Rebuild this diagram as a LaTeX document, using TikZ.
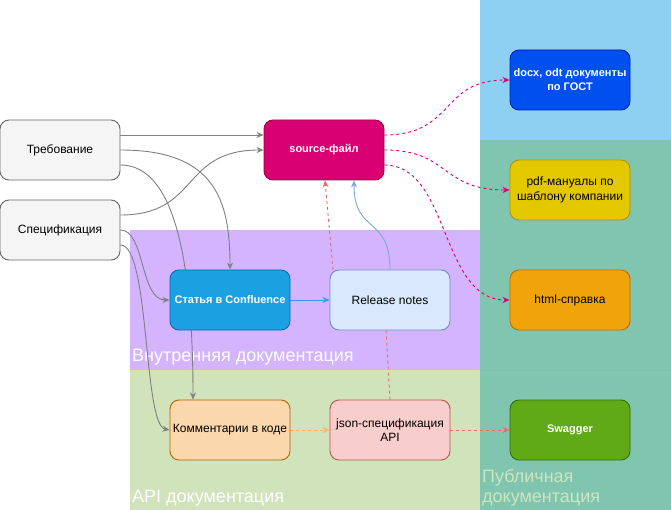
\documentclass[tikz,border=0pt]{standalone}
\usepackage{fontspec}
\setmainfont{Liberation Sans}
\usetikzlibrary{arrows.meta,calc}
\pgfdeclarelayer{bg}
\pgfdeclarelayer{edges}
\pgfsetlayers{bg,edges,main}
\definecolor{regblue}{HTML}{8DD0F1}
\definecolor{regteal}{HTML}{80C5AF}
\definecolor{regpurple}{HTML}{D4B3FF}
\definecolor{reggreen}{HTML}{D0E3BA}
\definecolor{pubtext}{HTML}{CDE6BE}
\definecolor{edgegray}{HTML}{808080}
\definecolor{edgemag}{HTML}{D80073}
\definecolor{srcdraw}{HTML}{A50040}
\definecolor{docxfill}{HTML}{0050EF}
\definecolor{docxdraw}{HTML}{001DBC}
\definecolor{pdffill}{HTML}{E3C800}
\definecolor{pdfdraw}{HTML}{B09500}
\definecolor{htmlfill}{HTML}{F0A30A}
\definecolor{htmldraw}{HTML}{BD7000}
\definecolor{conffill}{HTML}{1BA1E2}
\definecolor{confdraw}{HTML}{006EAF}
\definecolor{rnfill}{HTML}{DAE8FC}
\definecolor{rndraw}{HTML}{6C8EBF}
\definecolor{comfill}{HTML}{FAD7AC}
\definecolor{comdraw}{HTML}{B46504}
\definecolor{jsonfill}{HTML}{F8CECC}
\definecolor{jsondraw}{HTML}{B85450}
\definecolor{swfill}{HTML}{60A917}
\definecolor{swdraw}{HTML}{2D7600}
\definecolor{edgeblue}{HTML}{3399FF}
\definecolor{edgelblue}{HTML}{7EA6E0}
\definecolor{edgered}{HTML}{EA6B66}
\definecolor{edgeorange}{HTML}{FFB366}
\tikzset{
  box/.style={rounded corners=9pt, minimum width=120pt, minimum height=60pt,
    line width=0.9pt, align=center, inner sep=2pt,
    font=\fontsize{12}{14.5}\selectfont},
  wbox/.style={box, text=white, font=\bfseries\fontsize{11}{14}\selectfont},
  arr/.style={line width=0.9pt, -{Stealth[length=7pt,width=6pt]}},
  dsh/.style={arr, dash pattern=on 3pt off 3pt},
  reglabel/.style={anchor=base west, inner sep=0pt, font=\fontsize{18}{20}\selectfont}
}
\begin{document}
\begin{tikzpicture}[x=1pt,y=-1pt]
\useasboundingbox (0,0) rectangle (671,510);
\begin{pgfonlayer}{bg}
  \fill[white] (0,0) rectangle (671,510);
  \fill[regblue] (480,0) rectangle (671,140);
  \fill[regteal] (480,140) rectangle (671,510);
  \fill[regpurple] (130,230) rectangle (480,370);
  \fill[reggreen] (130,370) rectangle (480,510);
  \draw[regteal!85!black!80, line width=0.5pt] (480,370) -- (671,370);
  \draw[regpurple!85!black!70, line width=0.5pt] (130,230) -- (480,230);
  \node[reglabel, text=white] (lint) at (132,361) {Внутренняя документация};
  \node[reglabel, text=white] (lapi) at (132,502) {API документация};
  \node[reglabel, text=pubtext] (lpub) at (482,482) {Публичная};
  \node[reglabel, text=pubtext] (lpub2) at (482,502) {документация};
\end{pgfonlayer}

\node[box, fill=black!4, draw=black!60] (req) at (60,150) {Требование};
\node[box, fill=black!4, draw=black!60] (spec) at (60,230) {Спецификация};
\node[wbox, fill=edgemag, draw=srcdraw] (src) at (324,150) {source-файл};
\node[wbox, fill=docxfill, draw=docxdraw] (docx) at (570,80) {docx, odt документы\\по ГОСТ};
\node[box, fill=pdffill, draw=pdfdraw] (pdf) at (570,190) {pdf-мануалы по\\шаблону компании};
\node[box, fill=htmlfill, draw=htmldraw] (html) at (570,300) {html-справка};
\node[wbox, fill=conffill, draw=confdraw] (conf) at (230,300) {Статья в Confluence};
\node[box, fill=rnfill, draw=rndraw] (rn) at (390,300) {Release notes};
\node[box, fill=comfill, draw=comdraw] (com) at (230,430) {Комментарии в коде};
\node[box, fill=jsonfill, draw=jsondraw] (json) at (390,430) {json-спецификация\\API};
\node[wbox, fill=swfill, draw=swdraw] (sw) at (570,430) {Swagger};

\begin{pgfonlayer}{edges}
  \draw[arr, edgegray] ($(req.east)+(0,-15)$) -- ($(src.west)+(0,-15)$);
  \draw[arr, edgegray] ($(spec.east)+(0,-15)$) .. controls (200,215) and (180,150) .. (src.west);
  \draw[arr, edgegray] (req.east) .. controls (215,150) and (230,200) .. (conf.north);
  \draw[arr, edgegray] ($(req.east)+(0,15)$) .. controls (165,165) and (193,230) .. ($(com.north)+(-37,0)$);
  \draw[arr, edgegray] (spec.east) .. controls (145,230) and (140,300) .. (conf.west);
  \draw[arr, edgegray] ($(spec.east)+(0,15)$) .. controls (150,245) and (143,425) .. (com.west);
  \draw[arr, edgeblue] (conf.east) -- (rn.west);
  \draw[arr, edgelblue] (rn.north) .. controls (390,215) and (354,235) .. ($(src.south)+(30,0)$);
  \coordinate (jb) at (386,330);
  \coordinate (jt) at (333,270);
  \draw[dsh, edgered] (json.north) -- (jb) -- (jt) -- ($(src.south)+(1,0)$);
  \draw[dsh, edgeorange] (com.east) -- (json.west);
  \draw[dsh, edgered] (json.east) -- (sw.west);
  \draw[dsh, edgemag] ($(src.east)+(0,-15)$) .. controls (455,135) and (440,80) .. (docx.west);
  \draw[dsh, edgemag] (src.east) .. controls (450,150) and (440,190) .. (pdf.west);
  \draw[dsh, edgemag] ($(src.east)+(0,15)$) .. controls (450,165) and (440,300) .. (html.west);
\end{pgfonlayer}
\end{tikzpicture}
\end{document}
